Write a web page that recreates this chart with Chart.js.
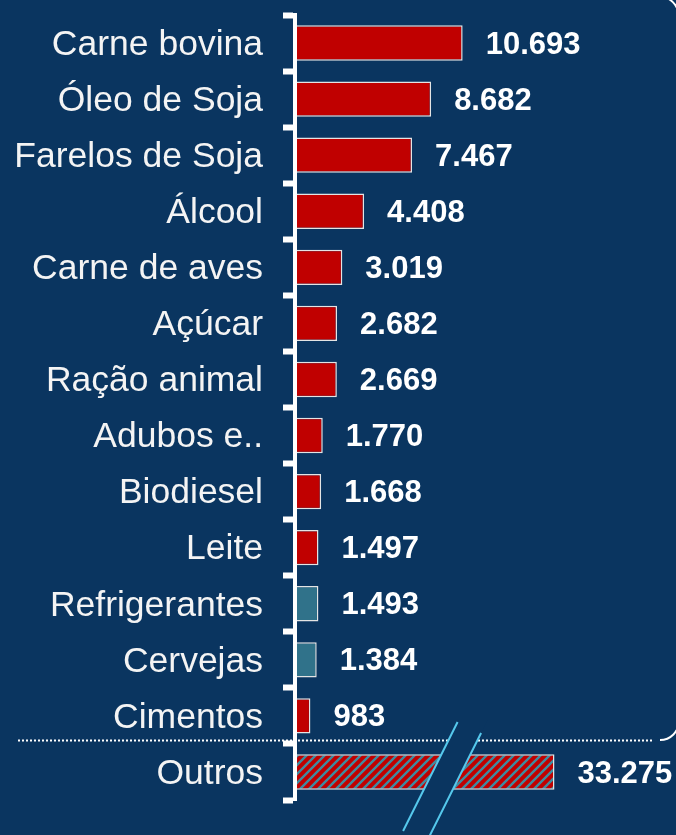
<!DOCTYPE html>
<html lang="pt-BR">
<head>
<meta charset="UTF-8">
<title>Exportações por produto</title>
<script src="https://cdn.jsdelivr.net/npm/chart.js@4.4.0/dist/chart.umd.min.js"></script>
<style>
  html, body { margin: 0; padding: 0; background: #0a3560; overflow: hidden; }
  .wrap { width: 676px; height: 835px; position: relative; }
</style>
</head>
<body>
<div class="wrap"><canvas id="chart"></canvas></div>
<script>
// dados
const categories = ['Carne bovina', 'Óleo de Soja', 'Farelos de Soja', 'Álcool', 'Carne de aves', 'Açúcar',
  'Ração animal', 'Adubos e..', 'Biodiesel', 'Leite', 'Refrigerantes', 'Cervejas', 'Cimentos', 'Outros'];
const values = [10693, 8682, 7467, 4408, 3019, 2682, 2669, 1770, 1668, 1497, 1493, 1384, 983, 33275];
const tealItems = ['Refrigerantes', 'Cervejas'];
// "Outros" is drawn on a broken axis: bar length capped at this value
const brokenCap = 16550;
const brokenAt = 9700;

const BG = '#0a3560';
const RED = '#c00000';
const TEAL = '#30728a';
const FONT = "'Liberation Sans', Arial, sans-serif";

function fmt(n) {
  return n.toString().replace(/\B(?=(\d{3})+(?!\d))/g, '.');
}

// hachura do "Outros"
function hatch() {
  const c = document.createElement('canvas');
  c.width = 9; c.height = 9;
  const g = c.getContext('2d');
  g.fillStyle = RED;
  g.fillRect(0, 0, 9, 9);
  g.strokeStyle = '#3f8ba0';
  g.lineWidth = 2.4;
  g.beginPath();
  g.moveTo(-1, 10); g.lineTo(10, -1);
  g.moveTo(-5, 5); g.lineTo(5, -5);
  g.moveTo(4, 14); g.lineTo(14, 4);
  g.stroke();
  return g.createPattern(c, 'repeat');
}

const drawn = values.map((v, i) => categories[i] === 'Outros' ? Math.min(v, brokenCap) : v);
const colors = categories.map(c => c === 'Outros' ? hatch() : (tealItems.includes(c) ? TEAL : RED));

const extras = {
  id: 'extras',
  afterDatasetsDraw(chart) {
    const ctx = chart.ctx;
    const xs = chart.scales.x, ys = chart.scales.y;
    const meta = chart.getDatasetMeta(0);
    const last = categories.length - 1;

    // linha pontilhada
    const sepY = Math.round((ys.getPixelForValue(last - 1) + ys.getPixelForValue(last)) / 2) - 4;
    ctx.save();
    ctx.strokeStyle = '#ffffff';
    ctx.lineWidth = 2;
    ctx.setLineDash([2, 2]);
    ctx.beginPath();
    ctx.moveTo(18, sepY + 0.5);
    ctx.lineTo(652, sepY + 0.5);
    ctx.stroke();
    ctx.restore();

    // moldura arredondada (direita)
    ctx.save();
    ctx.strokeStyle = '#ffffff';
    ctx.lineWidth = 2;
    ctx.beginPath();
    ctx.moveTo(600, -4);
    ctx.arcTo(679, -4, 679, sepY, 21);
    ctx.arcTo(679, sepY, 600, sepY, 19);
    ctx.lineTo(660, sepY);
    ctx.stroke();
    ctx.restore();

    // quebra do eixo
    const bar = meta.data[last];
    const cy = bar.y;
    const cx = xs.getPixelForValue(brokenAt);
    const k = 0.5, gap = 29;
    const x1 = y => cx - gap / 2 - (y - cy) * k;
    const x2 = y => cx + gap / 2 - (y - cy) * k;
    const t = cy - 52, b = cy + 70;
    ctx.save();
    ctx.fillStyle = BG;
    ctx.beginPath();
    ctx.moveTo(x1(t), t); ctx.lineTo(x2(t), t); ctx.lineTo(x2(b), b); ctx.lineTo(x1(b), b);
    ctx.closePath();
    ctx.fill();
    ctx.strokeStyle = '#55c8ec';
    ctx.lineWidth = 2;
    ctx.beginPath();
    ctx.moveTo(x1(cy - 50), cy - 50); ctx.lineTo(x1(cy + 59), cy + 59);
    ctx.moveTo(x2(cy - 39), cy - 39); ctx.lineTo(x2(cy + 66), cy + 66);
    ctx.stroke();
    ctx.restore();

    // rótulos de valor
    ctx.save();
    ctx.fillStyle = '#ffffff';
    ctx.font = 'bold 31px ' + FONT;
    ctx.textAlign = 'left';
    ctx.textBaseline = 'middle';
    meta.data.forEach((el, i) => {
      ctx.fillText(fmt(values[i]), el.x + 23, el.y + 2);
    });
    ctx.restore();
  }
};

new Chart(document.getElementById('chart'), {
  type: 'bar',
  data: {
    labels: categories,
    datasets: [{
      data: drawn,
      backgroundColor: colors,
      borderColor: '#e4e4e4',
      borderWidth: 1.5,
      barPercentage: 0.63,
      categoryPercentage: 1
    }]
  },
  options: {
    indexAxis: 'y',
    responsive: true,
    maintainAspectRatio: false,
    animation: false,
    layout: { padding: { top: 15, bottom: 35, left: 0, right: 0 } },
    plugins: { legend: { display: false }, tooltip: { enabled: false } },
    scales: {
      x: { display: false, min: 0, max: 24300 },
      y: {
        afterFit(scale) {
          scale.width = 295;
          scale.paddingTop = 0;
          scale.paddingBottom = 0;
        },
        grid: {
          drawOnChartArea: false,
          color: '#ffffff',
          tickColor: '#ffffff',
          tickLength: 12,
          tickWidth: 6
        },
        border: { display: true, color: '#ffffff', width: 4, z: 1 },
        ticks: {
          color: '#f4f4f4',
          padding: 20,
          labelOffset: 2,
          font: { family: FONT, size: 35.5 }
        }
      }
    }
  },
  plugins: [extras]
});
</script>
</body>
</html>
